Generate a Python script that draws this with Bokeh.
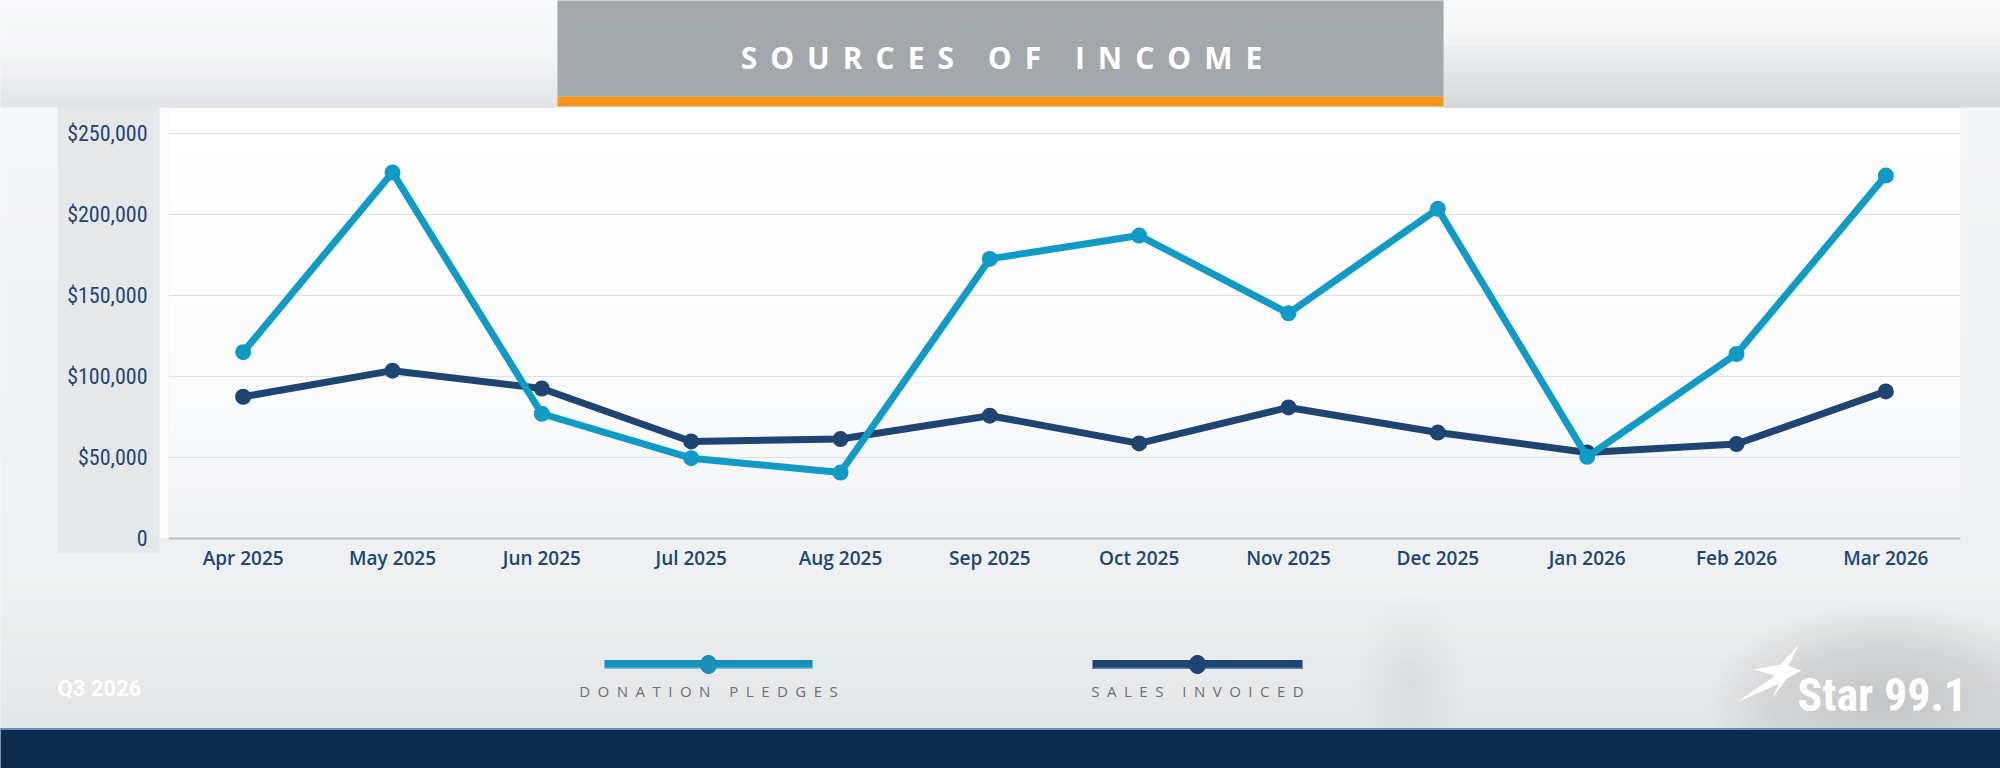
import math

from bokeh.core.properties import value
from bokeh.embed import file_html
from bokeh.models import ColumnDataSource, FactorRange, FixedTicker, Range1d
from bokeh.plotting import figure
from bokeh.resources import INLINE

# ---- data -------------------------------------------------------------
months = ["Apr 2025", "May 2025", "Jun 2025", "Jul 2025", "Aug 2025", "Sep 2025",
          "Oct 2025", "Nov 2025", "Dec 2025", "Jan 2026", "Feb 2026", "Mar 2026"]
donation_pledges = [115000, 226000, 77000, 49600, 40700, 172600,
                    187000, 139000, 203500, 50400, 113900, 224000]
sales_invoiced = [87500, 103600, 92600, 59900, 61400, 75800,
                  58700, 80900, 65400, 53100, 58300, 90800]
y_ticks = [0, 50000, 100000, 150000, 200000, 250000]
y_tick_labels = ["0", "$50,000", "$100,000", "$150,000", "$200,000", "$250,000"]
series_names = ["DONATION PLEDGES", "SALES INVOICED"]
title_text = "SOURCES OF INCOME"
period_text = "Q3 2026"
brand_text = "Star 99.1"

# ---- page geometry (pixels from top-left of the page) ------------------
W, H = 2000, 768
FL, FR, FT, FB = 168, 1960, 107, 538     # plot frame edges
PX_PER_UNIT = 405 / 250000                # vertical scale of the value axis

CYAN = "#0f9bc6"
NAVY = "#1e4571"
TEXT_NAVY = "#1f4672"
PANEL = "#e5e7e9"
BAND = "#eef0f1"
CONDENSED = "Roboto Condensed, Roboto"

p = figure(width=W, height=H,
           x_range=FactorRange(*months),
           y_range=Range1d(0, (FB - FT) / PX_PER_UNIT),
           output_backend="svg", toolbar_location=None,
           min_border_left=FL, min_border_right=W - FR,
           min_border_top=FT, min_border_bottom=H - FB)
p.background_fill_color = "#fcfcfd"
p.border_fill_color = PANEL
p.outline_line_color = None
for ax, col in ((p.yaxis[0], PANEL), (p.xaxis[0], BAND)):
    if "background_fill_color" in ax.properties():
        ax.background_fill_color = col

# page-pixel rows for the surrounding artwork (numeric y); columns are
# converted to the month axis' synthetic coordinate (one unit per month)
p.extra_y_ranges = {"page": Range1d(FB, FT)}
PAGE = dict(y_range_name="page")
N = len(months)


def cx(x):
    return (x - FL) / (FR - FL) * N


def rect(x0, y0, x1, y1, color, alpha=1.0, level="overlay"):
    p.quad(left=[cx(x0)], right=[cx(x1)], top=[y0], bottom=[y1], fill_color=color,
           fill_alpha=alpha, line_color=None, level=level, **PAGE)


def ellipse(x0, y0, rx, ry, color, alpha=1.0, n=48):
    xs = [cx(x0 + rx * math.cos(2 * math.pi * j / n)) for j in range(n)]
    ys = [y0 + ry * math.sin(2 * math.pi * j / n) for j in range(n)]
    p.patch(xs, ys, fill_color=color, fill_alpha=alpha, line_color=None,
            level="overlay", **PAGE)


def haze(x0, y0, rx, ry, color, alpha, rings=16):
    for k in range(rings):
        f = 1 - k / rings
        ellipse(x0, y0, rx * f, ry * f, color, alpha)


def mix(c0, c1, t):
    a = [int(c0[i:i + 2], 16) for i in (1, 3, 5)]
    b = [int(c1[i:i + 2], 16) for i in (1, 3, 5)]
    return "#" + "".join(f"{round(u + (v - u) * t):02x}" for u, v in zip(a, b))


def vgrad(x0, x1, y0, y1, c0, c1, steps=12, level="overlay"):
    for i in range(steps):
        ya = y0 + (y1 - y0) * i / steps
        yb = y0 + (y1 - y0) * (i + 1) / steps
        rect(x0, ya, x1, yb + 0.5, mix(c0, c1, (i + 0.5) / steps), level=level)


def tracked(text, gap, word_gap):
    return word_gap.join(gap.join(w) for w in text.split(" "))


def label(x, y, text, font, size, color, style="normal", align="center",
          baseline="middle"):
    p.text(x=[cx(x)], y=[y], text=[text], text_font=value(font), text_font_size=size,
           text_font_style=style, text_color=color, text_align=align,
           text_baseline=baseline, level="overlay", **PAGE)


# ---- backdrop ----------------------------------------------------------
# top strip: light, darkening into a soft shadow above the chart
vgrad(0, 557, 0, 60, "#f8f9fa", "#f4f5f6", 6)
vgrad(0, 557, 60, FT, "#f3f4f5", "#e1e3e6", 10)
vgrad(1443, W, 0, 45, "#fafbfb", "#f1f2f3", 5)
vgrad(1443, W, 45, FT, "#eeeff1", "#d5d8db", 12)
# side margins beside the frame
vgrad(0, 57, FT, 572, "#f5f6f7", BAND, 8)
rect(159, FT, FL, FB, "#fbfbfc")
rect(159, FB, FL, 553, BAND)
rect(57, 553, FL, 572, BAND)
vgrad(FR, W, FT, 572, "#f4f5f6", BAND, 8)
# lower area
vgrad(0, W, 571, 728, BAND, "#e3e5e7", 14)
haze(1885, 700, 175, 95, "#a2a6ab", 0.022, 24)
haze(1410, 680, 55, 85, "#b5b9bd", 0.014, 12)
haze(330, 650, 300, 70, "#ffffff", 0.02, 10)

# inside the frame: soft fade toward the base line
vgrad(FL, FR, FT, 400, "#ffffff", "#fbfbfc", 6, level="image")
vgrad(FL, FR, 400, FB, "#fbfbfc", "#f0f2f4", 10, level="image")

# footer bar
rect(0, 728, W, H, "#0c2c4f")
rect(0, 728, W, 729.5, "#6e8db0")

# title banner
rect(557, 0, 1443, 96, "#a3a8ac")
rect(557, 96, 1443, 106, "#f7941d")
label(1001, 57, tracked(title_text, "\u2004\u200a", "\u2004\u200a \u2004\u200a"),
      "Open Sans", "30px", "white", style="bold")

# ---- axes & grid -------------------------------------------------------
p.xgrid.visible = False
p.ygrid.grid_line_color = "#dde1e5"
p.ygrid.grid_line_width = 1

p.yaxis.ticker = FixedTicker(ticks=y_ticks)
p.yaxis.major_label_overrides = dict(zip(y_ticks, y_tick_labels))
p.yaxis.axis_line_color = None
p.yaxis.major_tick_line_color = None
p.yaxis.minor_tick_line_color = None
p.yaxis.major_tick_out = 0
p.yaxis.major_tick_in = 0
p.yaxis.major_label_standoff = 21
p.yaxis.major_label_text_font = CONDENSED
p.yaxis.major_label_text_font_size = "22px"
p.yaxis.major_label_text_color = TEXT_NAVY

p.xaxis.axis_line_color = "#b3bcc6"
p.xaxis.axis_line_width = 2
p.xaxis.major_tick_line_color = None
p.xaxis.minor_tick_line_color = None
p.xaxis.major_tick_out = 0
p.xaxis.major_tick_in = 0
p.xaxis.major_label_standoff = 6
p.xaxis.major_label_text_font = "Open Sans SemiBold, Open Sans Semibold, Open Sans"
p.xaxis.major_label_text_font_size = "19px"
p.xaxis.major_label_text_color = TEXT_NAVY

# ---- series ------------------------------------------------------------
src = ColumnDataSource(dict(month=months, donations=donation_pledges, sales=sales_invoiced))
p.line("month", "sales", source=src, line_color=NAVY, line_width=7,
       line_join="round", line_cap="round")
p.scatter("month", "sales", source=src, size=16, fill_color=NAVY, line_color=None)
p.line("month", "donations", source=src, line_color=CYAN, line_width=7,
       line_join="round", line_cap="round")
p.scatter("month", "donations", source=src, size=16, fill_color=CYAN, line_color=None)

# ---- legend ------------------------------------------------------------
legend_specs = [(series_names[0], 604, 812, "#1791b6", "#72c4df"),
                (series_names[1], 1092, 1302, "#1e4572", "#5f7ea4")]
for name, x0, x1, col, edge in legend_specs:
    rect(x0, 659.5, x1, 668.5, col)
    rect(x0, 667, x1, 668.5, edge)
    ellipse((x0 + x1) / 2, 664, 8.5, 9.5, col)
    label((x0 + x1) / 2, 690, tracked(name, "\u2002", "\u2002 \u2002"), "Open Sans",
          "15px", "#6d6f72")

# period stamp
label(57, 688, period_text, "Roboto", "22px", "white", style="bold", align="left")

# brand mark
star_x = [1798.3, 1780, 1753.3, 1775, 1736, 1778.3, 1771.7, 1786, 1801, 1788]
star_y = [644, 664, 669, 675, 702, 683.3, 698, 678.3, 670, 665.5]
p.patch([cx(v) for v in star_x], star_y, fill_color="white", line_color=None,
        level="overlay", **PAGE)
label(1797, 694, brand_text, CONDENSED, "46px", "white", style="bold", align="left",
      baseline="alphabetic")

open("out.html", "w").write(file_html(p, INLINE))
